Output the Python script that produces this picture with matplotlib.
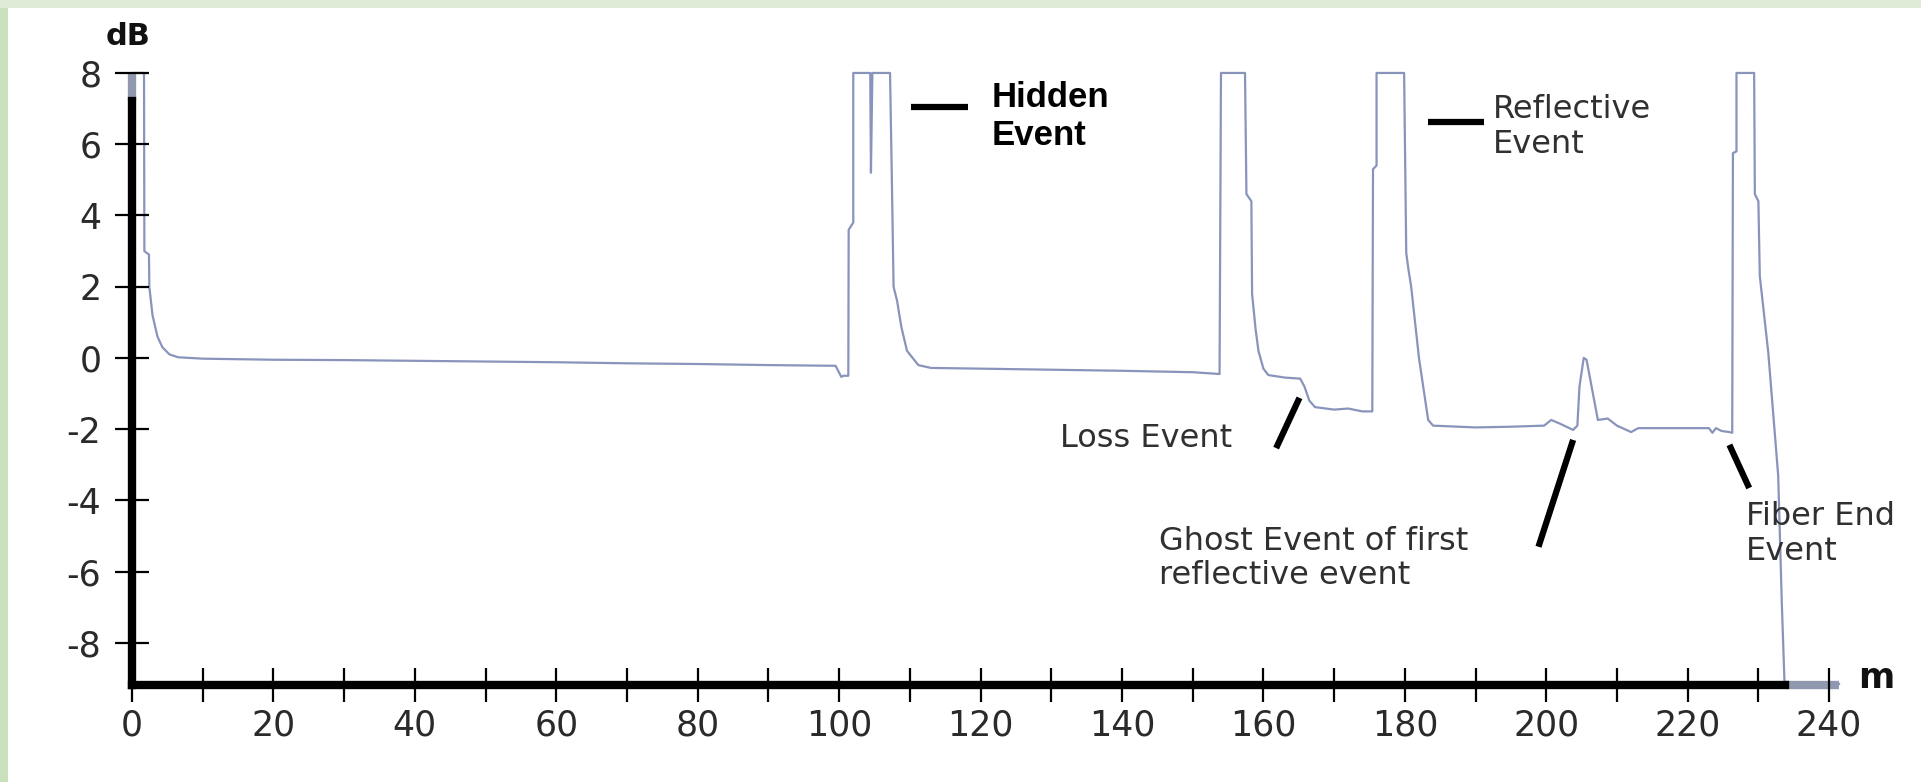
"""
OTDR trace with annotated events (hidden, loss, reflective, ghost, fiber end).
Saves out.png at 1921x782.
"""

import matplotlib
matplotlib.use("Agg")
import matplotlib.pyplot as plt
from matplotlib.patches import Rectangle
from matplotlib.ticker import MultipleLocator

# ---------------------------------------------------------------------------
# Trace: distance (m) vs level (dB)
# ---------------------------------------------------------------------------
distance_m = [
    0.0, 0.0, 1.7, 1.75, 2.4, 2.45, 2.9, 3.6, 4.3, 5.3, 6.5,
    10, 20, 30, 40, 50, 60, 70, 80, 90, 99.5, 100.3, 100.6,
    101.3, 101.35, 102.0, 102.0, 104.4, 104.5, 104.7, 107.2,
    107.5, 107.7, 108.2, 108.8, 109.6, 111.2, 113, 120, 130, 140, 150,
    153.8, 154.0, 157.4, 157.6, 158.3, 158.4, 158.9, 159.3, 160.0,
    160.7, 163, 165.2, 165.8, 166.5, 167.3, 170, 172, 174, 175.4,
    175.5, 176.0, 176.0, 179.9, 180.2, 180.5, 180.9, 182.0, 183.3,
    184, 190, 195, 199.7, 200.7, 202, 203.8, 204.4, 204.7, 205.3,
    205.7, 206.6, 207.3, 208.7, 210, 212, 213, 220, 223, 223.5, 224,
    224.8, 225.9, 226.3, 226.4, 226.9, 226.9, 229.4, 229.5, 230.0,
    230.2, 231.4, 232.8, 233.3, 233.7, 241.4,
]
level_db = [
    7.2, 8.0, 8.0, 3.0, 2.9, 2.0, 1.2, 0.6, 0.3, 0.1, 0.02,
    -0.02, -0.05, -0.06, -0.08, -0.1, -0.12, -0.15, -0.17, -0.2, -0.22, -0.53, -0.5,
    -0.5, 3.6, 3.8, 8.0, 8.0, 5.2, 8.0, 8.0,
    4.5, 2.0, 1.6, 0.87, 0.2, -0.2, -0.28, -0.3, -0.33, -0.36, -0.4,
    -0.45, 8.0, 8.0, 4.6, 4.4, 1.8, 0.8, 0.2, -0.3,
    -0.48, -0.55, -0.58, -0.8, -1.2, -1.38, -1.45, -1.42, -1.5, -1.5,
    5.3, 5.4, 8.0, 8.0, 2.95, 2.5, 2.0, 0.0, -1.74,
    -1.9, -1.95, -1.93, -1.9, -1.74, -1.85, -2.02, -1.9, -0.8, 0.0,
    -0.05, -1.0, -1.74, -1.7, -1.9, -2.08, -1.97, -1.97, -1.97, -2.1, -1.97,
    -2.05, -2.08, -2.1, 5.75, 5.8, 8.0, 8.0, 4.6, 4.4,
    2.3, 0.15, -3.3, -6.8, -9.15, -9.15,
]

x_ticks = list(range(0, 241, 20))
y_ticks = list(range(-8, 9, 2))

# Event labels: text, anchor of the last line's baseline (m, dB),
# leader line ((x0, y0), (x1, y1))
event_labels = [
    ("Hidden\nEvent", (121.5, 5.98), ((110.2, 7.05), (118.2, 7.05))),
    ("Reflective\nEvent", (192.5, 5.76), ((183.3, 6.63), (191.2, 6.63))),
    ("Loss Event", (131.3, -2.5), ((165.1, -1.12), (161.8, -2.53))),
    ("Ghost Event of first\nreflective event", (145.3, -6.35),
     ((203.8, -2.3), (198.9, -5.3))),
    ("Fiber End\nEvent", (228.3, -5.67), ((225.9, -2.44), (228.7, -3.65))),
]

TRACE = "#8894bb"
X_MAX, Y_MIN, Y_MAX = 241.4, -9.18, 8.1

fig = plt.figure(figsize=(19.21, 7.82), dpi=100)
ax = fig.add_axes([132 / 1921, 97 / 782, (1839 - 132) / 1921, (712.6 - 97) / 782])

# thin trace, plus thick grey where it lies on the axes
ax.plot(distance_m, level_db, color=TRACE, lw=1.6, zorder=2, clip_on=False)
ax.plot(distance_m[:2], level_db[:2], color="#9098b0", lw=6,
        solid_capstyle="butt", zorder=2, clip_on=False)
ax.plot(distance_m[-2:], [Y_MIN, Y_MIN], color="#9098b0", lw=6,
        solid_capstyle="butt", zorder=2, clip_on=False)

ax.set_xlim(0, X_MAX)
ax.set_ylim(Y_MIN, Y_MAX)

for side in ("top", "right"):
    ax.spines[side].set_visible(False)
for side in ("left", "bottom"):
    ax.spines[side].set_linewidth(6)
    ax.spines[side].set_color("black")
ax.spines["left"].set_bounds(Y_MIN, level_db[0])
ax.spines["bottom"].set_bounds(0, distance_m[-2])
ax.set_axisbelow(False)

ax.set_xticks(x_ticks)
ax.xaxis.set_minor_locator(MultipleLocator(10))
ax.set_yticks(y_ticks)
ax.tick_params(axis="both", which="both", direction="inout", length=24,
               width=1.6, color="black", labelsize=25, labelcolor="#2a2a2a")
ax.tick_params(axis="x", pad=5)
ax.tick_params(axis="y", pad=10)
ax.set_yticklabels([str(v) for v in y_ticks])

# unit labels
fig.text(128 / 1921, 1 - 45 / 782, "dB", fontsize=22, fontweight="bold",
         ha="center", va="baseline", color="#111111")
fig.text(1858 / 1921, 1 - 688 / 782, "m", fontsize=25, fontweight="bold",
         ha="left", va="baseline", color="#111111")

# event annotations
for i, (txt, (tx, ty), ((x0, y0), (x1, y1))) in enumerate(event_labels):
    ax.plot([x0, x1], [y0, y1], color="black", lw=4.5,
            solid_capstyle="butt", zorder=4, clip_on=False)
    if i == 0:
        ax.text(tx, ty, txt, fontsize=25, fontweight="bold",
                family="Liberation Sans", color="black",
                ha="left", va="baseline", linespacing=1.2, clip_on=False)
    else:
        ax.text(tx, ty, txt, fontsize=23, color="#303030",
                ha="left", va="baseline", linespacing=1.15, clip_on=False)

# green frame on the top and left edges
fig.add_artist(Rectangle((0, 0), 8 / 1921, 1, transform=fig.transFigure,
                         color="#c9e0bc", lw=0))
fig.add_artist(Rectangle((0, 1 - 8 / 782), 1, 8 / 782,
                         transform=fig.transFigure, color="#dfebd7", lw=0))

fig.savefig("out.png", dpi=100)
